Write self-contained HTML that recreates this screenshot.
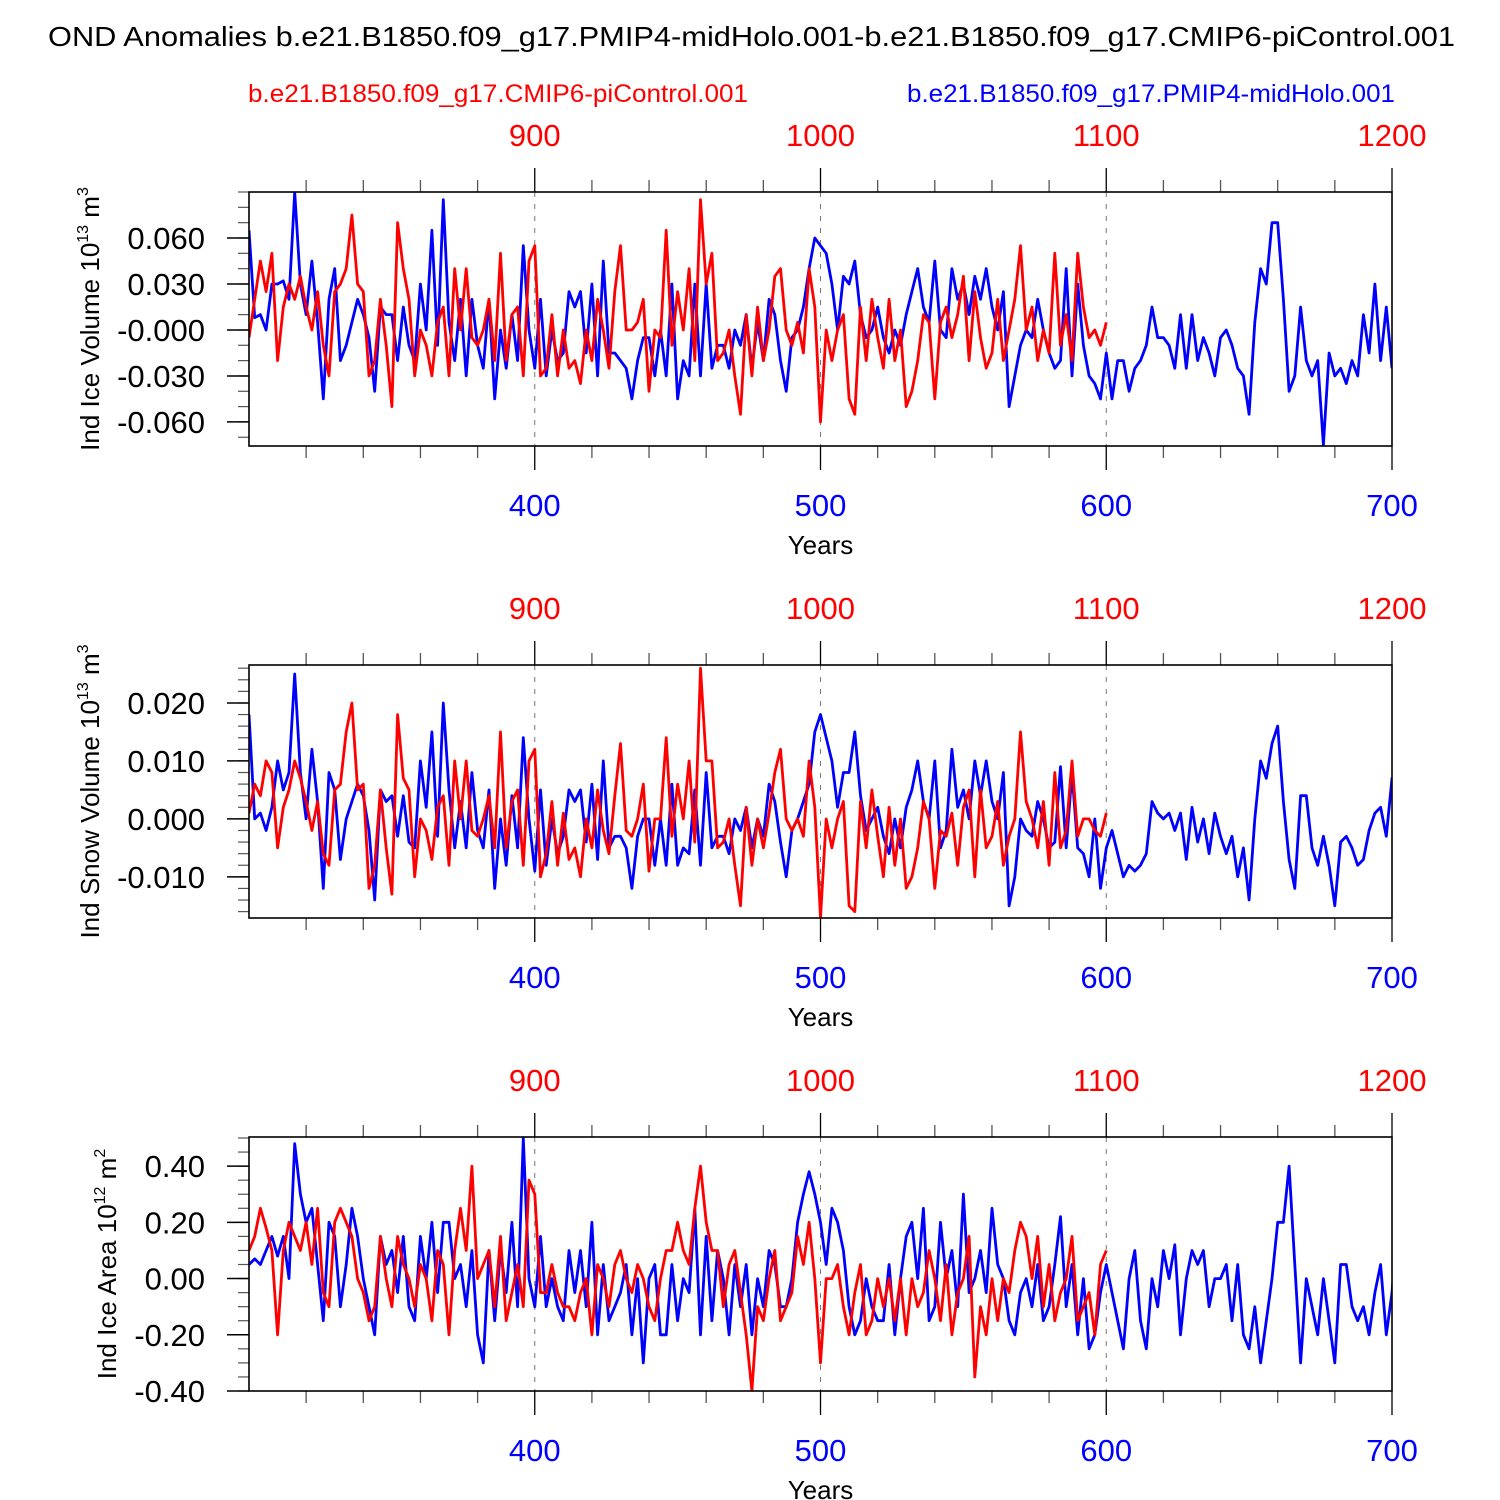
<!DOCTYPE html>
<html><head><meta charset="utf-8"><style>
html,body{margin:0;padding:0;background:#fff}
svg{display:block;font-family:"Liberation Sans",sans-serif}
</style></head><body>
<svg id="chart" width="1500" height="1500" viewBox="0 0 1500 1500" xmlns="http://www.w3.org/2000/svg">
<text x="48" y="46" font-size="28" textLength="1407" lengthAdjust="spacingAndGlyphs">OND Anomalies b.e21.B1850.f09_g17.PMIP4-midHolo.001-b.e21.B1850.f09_g17.CMIP6-piControl.001</text>
<text x="248" y="102" font-size="25" fill="#ff0000" textLength="500" lengthAdjust="spacingAndGlyphs">b.e21.B1850.f09_g17.CMIP6-piControl.001</text>
<text x="907" y="102" font-size="25" fill="#0000ff" textLength="488" lengthAdjust="spacingAndGlyphs">b.e21.B1850.f09_g17.PMIP4-midHolo.001</text>
</svg>
<script>
const blueStartYear = 300, redStartYear = 800, stepYears = 2;
const blueTicks = [400, 500, 600, 700];
const redTicks = [900, 1000, 1100, 1200];
const iceVolBlue = [65,8,10,0,30,30,32,20,90,30,10,45,5,-45,20,40,-20,-10,5,20,10,-5,-40,15,10,10,-20,15,-10,-20,30,0,65,-10,85,5,-20,20,-30,20,-10,-25,20,-45,0,-25,10,-20,55,0,-25,20,-30,0,-20,-15,25,15,25,-15,30,-30,45,-15,-15,-20,-25,-45,-20,-5,-5,-30,0,-30,30,-45,-20,-30,30,-30,30,-25,-10,-10,-25,0,-10,10,-25,5,-20,20,10,-20,-40,-5,0,15,40,60,55,50,30,0,35,30,45,10,-5,0,15,-5,-15,0,-10,10,25,40,15,5,45,0,-5,40,20,30,10,35,20,40,15,0,25,-50,-30,-10,0,-5,20,0,-15,-25,-20,40,-30,30,-10,-30,-35,-45,-15,-45,-20,-20,-40,-25,-20,-10,15,-5,-5,-10,-25,10,-25,10,-20,-5,-15,-30,-5,0,-10,-25,-30,-55,5,40,30,70,70,20,-40,-30,15,-20,-30,-20,-75,-15,-30,-25,-35,-20,-30,10,-15,30,-20,15,-25];
const iceVolRed = [-5,20,45,25,50,-20,15,30,20,35,15,0,25,-10,-30,25,30,40,75,30,25,-30,-20,20,-10,-50,70,40,20,-30,0,-10,-30,5,15,-30,40,0,40,-5,-10,0,20,-20,50,-20,10,15,-30,45,55,-30,-25,10,-30,0,-25,-20,-35,0,-20,20,0,-25,25,55,0,0,5,20,-40,0,-5,65,-10,25,0,40,-20,85,30,50,-20,-15,0,-30,-55,10,-30,15,-20,0,35,40,0,-10,5,-15,40,15,-60,0,-20,0,10,-45,-55,15,-20,20,-5,-25,20,-20,0,-50,-40,-20,10,5,-45,5,15,-5,10,35,-20,25,-5,-25,-15,20,-20,0,20,55,0,15,-20,0,-15,50,-10,10,-20,50,15,-5,0,-10,5];
const snowVolBlue = [18,0,1,-2,2,10,5,8,25,8,0,12,3,-12,8,5,-7,0,3,6,4,-2,-14,5,3,4,-3,4,-4,-5,10,2,15,-3,20,5,-5,3,-5,8,-2,-5,5,-12,0,-8,4,-5,14,0,-9,5,-8,0,-6,-3,5,3,5,-4,6,-7,10,-5,-3,-3,-5,-12,-3,0,0,-8,0,-8,6,-8,-5,-6,5,-8,8,-5,-3,-3,-6,0,-2,2,-5,0,-3,6,3,-4,-10,-2,0,3,6,15,18,14,10,2,8,8,15,4,-2,0,2,-3,-6,0,-5,2,5,10,3,0,10,-5,-2,12,2,5,0,10,4,10,3,0,8,-15,-10,0,-2,-3,3,0,-5,-4,9,-5,8,-5,-6,-10,0,-12,-5,-2,-6,-10,-8,-9,-8,-6,3,1,0,1,-2,1,-7,2,-4,0,-6,1,-3,-6,-3,-10,-5,-14,0,10,7,13,16,3,-7,-12,4,4,-5,-8,-3,-8,-15,-4,-3,-5,-8,-7,-2,1,2,-3,7,-3,5,3,-2];
const snowVolRed = [1,6,4,10,8,-5,2,5,10,7,3,-2,3,-6,-8,5,6,15,20,5,6,-12,-8,5,-5,-13,18,7,5,-10,0,-2,-7,2,4,-8,10,0,10,-2,-3,0,4,-5,15,-5,3,5,-8,10,12,-10,-6,3,-8,1,-7,-5,-10,0,-5,5,-2,-6,4,13,-2,-3,0,6,-9,0,0,14,-3,6,0,10,-4,26,10,10,-5,-4,0,-8,-15,2,-8,0,-5,1,8,12,0,-2,0,-3,10,2,-17,0,-5,0,3,-15,-16,3,-5,5,-3,-10,2,-8,0,-12,-10,-5,3,0,-12,-2,-3,1,-8,2,5,-10,5,-5,-3,3,-8,-3,0,15,3,0,-5,3,-8,8,-5,-2,10,-3,0,0,-2,-3,1];
const iceAreaBlue = [5,7,5,10,15,8,15,0,48,30,20,25,5,-15,20,15,-10,5,25,15,0,-10,-20,15,5,10,-5,15,-10,-15,15,0,20,-5,20,20,0,5,-10,10,-20,-30,10,-15,10,-5,20,-10,50,0,-10,15,-10,0,-10,-15,10,-5,10,-10,20,-20,5,-15,-10,-5,5,-20,0,-30,0,5,-20,-20,5,-15,0,-5,25,-20,15,-15,10,0,-20,5,-10,5,-20,0,-10,10,5,-10,-10,0,20,30,38,30,20,5,25,20,10,-10,-20,-15,0,-10,-15,-15,5,-20,0,15,20,0,25,-15,-10,20,0,10,-10,30,-5,0,10,-5,25,5,0,-15,-20,-5,0,-10,5,-15,-10,5,22,-10,5,-20,0,-25,-20,-5,5,-5,-15,-25,0,10,-15,-25,0,-10,10,0,12,-20,0,10,5,10,-10,0,0,5,-15,5,-20,-25,-10,-30,-15,0,20,20,40,5,-30,0,-10,-20,0,-15,-30,5,5,-10,-15,-10,-20,-5,5,-20,-5,20,10,0,-5];
const iceAreaRed = [10,15,25,18,10,-20,10,20,15,10,20,5,25,-5,-10,20,25,20,15,0,-5,-15,-10,15,0,-10,15,5,0,-10,5,0,-15,10,5,-20,10,25,10,40,0,5,10,-10,15,-15,-5,5,-10,35,30,-5,-5,5,-5,-10,-10,-15,-5,0,-20,5,0,-10,5,10,0,-5,5,0,-10,-15,0,10,10,20,10,5,25,40,20,10,10,-10,5,10,-5,-20,-40,-10,-15,0,10,-15,-10,-5,15,5,20,0,-30,0,0,5,-10,-20,-5,5,-20,-15,0,-10,0,-15,0,-20,0,-10,-5,10,0,-15,5,-20,-5,0,15,-35,-10,-20,0,-15,0,-5,10,20,15,0,15,-10,5,-15,-5,0,15,-15,-10,-5,-20,5,10];
const panel1Ticks = [0.06,0.03,0,-0.03,-0.06];
const panel1Labels = ["0.060","0.030","-0.000","-0.030","-0.060"];
const panel2Ticks = [0.02,0.01,0,-0.01];
const panel2Labels = ["0.020","0.010","0.000","-0.010"];
const panel3Ticks = [0.4,0.2,0,-0.2,-0.4];
const panel3Labels = ["0.40","0.20","0.00","-0.20","-0.40"];

const NS = "http://www.w3.org/2000/svg";
const svg = document.getElementById('chart');
const X0 = 249, X1 = 1392;
function xBlue(y){ return X0 + (y-300)/400*(X1-X0); }
function xRed(y){ return X0 + (y-800)/400*(X1-X0); }
function mk(tag, attrs, parent){ const e=document.createElementNS(NS,tag); for(const k in attrs) e.setAttribute(k,attrs[k]); (parent||svg).appendChild(e); return e; }

function panel(cfg){
  const g = mk('g',{});
  
  
  const top=cfg.top, bot=cfg.bot;
  const yS = v => top + (cfg.ymax - v)/(cfg.ymax - cfg.ymin)*(bot-top);
  for(let v=Math.ceil(cfg.ymin/cfg.minor)*cfg.minor; v<=cfg.ymax+1e-9; v+=cfg.minor){
    const t = mk('line',{x1:X0-11,x2:X0,y1:yS(v),y2:yS(v),stroke:'#555','stroke-width':1.2},g);
    
    
  }
  cfg.ticks.forEach((v,i)=>{
    const t = mk('line',{x1:X0-22,x2:X0,y1:yS(v),y2:yS(v),stroke:'#000','stroke-width':1.5},g);
    
    
    const l = mk('text',{x:X0-44,y:yS(v)+11,'font-size':31,'text-anchor':'end'},g);
    l.textContent = cfg.labels[i];
    
    
  });
  for(let yr=300; yr<=700; yr+=20){
    const major = yr%100===0;
    const x = xBlue(yr);
    if(yr>300){
      const t1 = mk('line',{x1:x,x2:x,y1:bot,y2:bot+(major?24:12),stroke:major?'#000':'#555','stroke-width':1.3},g);
      
      
      const t2 = mk('line',{x1:x,x2:x,y1:top,y2:top-(major?24:12),stroke:major?'#000':'#555','stroke-width':1.3},g);
      
      
    }
    if(major && yr<700 && yr>300){
      const d = mk('line',{x1:x,x2:x,y1:top,y2:bot,stroke:'#777','stroke-width':1,'stroke-dasharray':'5,7'},g);
      
      
    }
  }
  blueTicks.forEach(yr=>{
    const l = mk('text',{x:xBlue(yr),y:bot+70,'font-size':31,'text-anchor':'middle',fill:'#0000ff'},g);
    l.textContent = yr;
    
    
  });
  redTicks.forEach(yr=>{
    const l = mk('text',{x:xRed(yr),y:top-46,'font-size':31,'text-anchor':'middle',fill:'#ff0000'},g);
    l.textContent = yr;
    
    
  });
  const xt = mk('text',{x:(X0+X1)/2,y:bot+108,'font-size':26,'text-anchor':'middle'},g);
  xt.textContent = 'Years';
  
  
  const yt = mk('text',{x:0,y:0,'font-size':26,'text-anchor':'middle',transform:`translate(${cfg.ytx},${(top+bot)/2}) rotate(-90)`},g);
  yt.innerHTML = cfg.ytitle + ' 10<tspan dy="-11" font-size="16">'+cfg.exp+'</tspan><tspan dy="11"> m</tspan><tspan dy="-11" font-size="16">'+cfg.mexp+'</tspan>';
  
  
  const cp = mk('clipPath',{id:cfg.name+'-clip'},g);
  mk('rect',{x:X0,y:top,width:X1-X0,height:bot-top},cp);
  function series(arr, start, xf, color, nm){
    const pts = arr.map((v,i)=> xf(start+i*stepYears).toFixed(1)+','+yS(v*cfg.unit).toFixed(1)).join(' ');
    const p = mk('polyline',{points:pts,fill:'none',stroke:color,'stroke-width':2.8,'stroke-linejoin':'round','clip-path':`url(#${cfg.name}-clip)`},g);
    
    
  }
  series(cfg.blue, blueStartYear, xBlue, '#0000ff', 'series-midholo');
  series(cfg.red, redStartYear, xRed, '#ff0000', 'series-picontrol');
  const fr = mk('rect',{x:X0,y:top,width:X1-X0,height:bot-top,fill:'none',stroke:'#000','stroke-width':1.6},g);
  
  
}
panel({name:'ice-volume-panel',top:192,bot:446,ymax:0.09,ymin:-0.0757,minor:0.01,ticks:panel1Ticks,labels:panel1Labels,blue:iceVolBlue,red:iceVolRed,unit:0.001,ytitle:'Ind Ice Volume',exp:'13',mexp:'3',ytx:99});
panel({name:'snow-volume-panel',top:665,bot:918,ymax:0.02655,ymin:-0.0171,minor:0.002,ticks:panel2Ticks,labels:panel2Labels,blue:snowVolBlue,red:snowVolRed,unit:0.001,ytitle:'Ind Snow Volume',exp:'13',mexp:'3',ytx:99});
panel({name:'ice-area-panel',top:1137,bot:1391,ymax:0.5036,ymin:-0.4,minor:0.05,ticks:panel3Ticks,labels:panel3Labels,blue:iceAreaBlue,red:iceAreaRed,unit:0.01,ytitle:'Ind Ice Area',exp:'12',mexp:'2',ytx:116});
</script>
</body></html>
